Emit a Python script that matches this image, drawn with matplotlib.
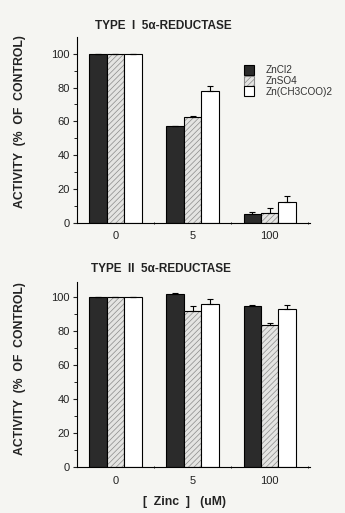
import matplotlib
matplotlib.use("Agg")
import matplotlib.pyplot as plt
import matplotlib.patches as mpatches
import numpy as np

plt.rcParams['font.family'] = ['Liberation Sans', 'DejaVu Sans']
plt.rcParams['hatch.linewidth'] = 0.5

# zinc concentrations (uM)
conc = ['0', '5', '100']
salts = ['ZnCl2', 'ZnSO4', 'Zn(CH3COO)2']

# TYPE I 5a-reductase, activity (% of control)
t1_zncl2 = [100, 57, 5]
t1_zncl2_err = [0, 0.5, 1.3]
t1_znso4 = [100, 62.5, 5.5]
t1_znso4_err = [0, 0.5, 3.3]
t1_znac = [100, 78, 12]
t1_znac_err = [0, 3, 3.6]

# TYPE II 5a-reductase
t2_zncl2 = [100, 102, 94.7]
t2_zncl2_err = [0, 0.4, 0.8]
t2_znso4 = [100, 91.5, 83.4]
t2_znso4_err = [0, 3, 1.6]
t2_znac = [100, 95.7, 93]
t2_znac_err = [0, 3.1, 2]

bg = '#f5f5f2'
fig = plt.figure(figsize=(3.45, 5.13), dpi=100, facecolor=bg)
ax1 = fig.add_axes([0.223, 0.566, 0.675, 0.362])
ax2 = fig.add_axes([0.223, 0.089, 0.675, 0.362])

w = 0.226
x = np.arange(len(conc))


def draw(ax, a, ae, b, be, c, ce, ytop):
    ax.set_facecolor('none')
    kw = dict(capsize=2.5, error_kw=dict(elinewidth=0.8, capthick=0.8, ecolor='black'))
    ax.bar(x - w, a, w, color='#2b2b2b', edgecolor='black', linewidth=0.8,
           yerr=[np.zeros(3), ae], **kw)
    # hatched bar: hatch in gray, outline in black on top
    ax.bar(x, b, w, color='#e4e4e2', edgecolor='#8a8a8a', linewidth=0, hatch='//////')
    ax.bar(x, b, w, color='none', edgecolor='black', linewidth=0.8,
           yerr=[np.zeros(3), be], **kw)
    ax.bar(x + w, c, w, color='white', edgecolor='black', linewidth=0.8,
           yerr=[np.zeros(3), ce], **kw)
    ax.set_xlim(-0.5, 2.52)
    ax.set_ylim(0, ytop)
    ax.spines['top'].set_visible(False)
    ax.spines['right'].set_visible(False)
    for s in ['left', 'bottom']:
        ax.spines[s].set_linewidth(0.8)
    ax.set_yticks([0, 20, 40, 60, 80, 100])
    ax.set_yticks(np.arange(10, 110, 10), minor=True)
    ax.set_xticks(x)
    ax.set_xticklabels(conc)
    ax.set_xticks([0.5, 1.5, 2.5], minor=True)
    ax.tick_params(axis='y', which='major', length=3, width=0.8, labelsize=8, pad=2, colors='#222222')
    ax.tick_params(axis='y', which='minor', length=2, width=0.6)
    ax.tick_params(axis='x', which='major', length=0, labelsize=8, pad=6, colors='#222222')
    ax.tick_params(axis='x', which='minor', length=2, width=0.6, direction='inout')


draw(ax1, t1_zncl2, t1_zncl2_err, t1_znso4, t1_znso4_err, t1_znac, t1_znac_err, 110)
draw(ax2, t2_zncl2, t2_zncl2_err, t2_znso4, t2_znso4_err, t2_znac, t2_znac_err, 109)

handles = [
    mpatches.Patch(facecolor='#2b2b2b', edgecolor='black', linewidth=0.8),
    mpatches.Patch(facecolor='#e4e4e2', edgecolor='#8a8a8a', hatch='//////', linewidth=0.8),
    mpatches.Patch(facecolor='white', edgecolor='black', linewidth=0.8),
]
leg = ax1.legend(handles, salts, loc='upper left', bbox_to_anchor=(0.70, 0.87), frameon=False,
                 fontsize=7.2, handlelength=1.05, handleheight=1.15, labelspacing=0.03,
                 handletextpad=1.1, borderaxespad=0)
for t in leg.get_texts():
    t.set_color('#333333')

fig.text(0.472, 0.949, 'TYPE  I  5\u03b1-REDUCTASE', ha='center', va='center',
         fontsize=8.5, fontweight='bold', color='#222222')
fig.text(0.467, 0.476, 'TYPE  II  5\u03b1-REDUCTASE', ha='center', va='center',
         fontsize=8.5, fontweight='bold', color='#222222')
fig.text(0.058, 0.764, 'ACTIVITY  (%  OF  CONTROL)', rotation=90, ha='center', va='center',
         fontsize=8.8, fontweight='bold', color='#222222')
fig.text(0.058, 0.282, 'ACTIVITY  (%  OF  CONTROL)', rotation=90, ha='center', va='center',
         fontsize=8.8, fontweight='bold', color='#222222')
fig.text(0.536, 0.021, '[  Zinc  ]   (uM)', ha='center', va='center',
         fontsize=8.8, fontweight='bold', color='#222222')

fig.savefig('out.png', dpi=100, facecolor=bg)
